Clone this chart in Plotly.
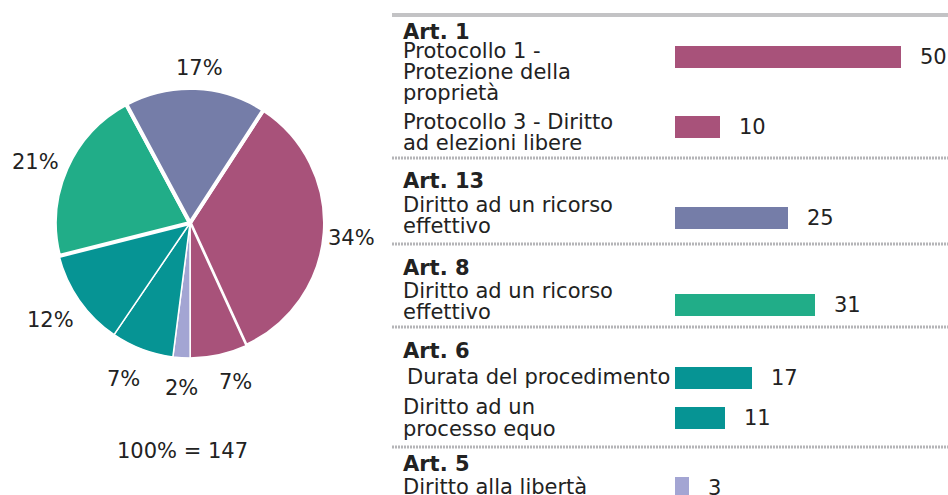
import math
import plotly.graph_objects as go

# ---------------- data ----------------
articles = ["Art. 1", "Art. 1", "Art. 13", "Art. 8", "Art. 6", "Art. 6", "Art. 5"]
rights = [
    ["Protocollo 1 -", "Protezione della", "proprietà"],
    ["Protocollo 3 - Diritto", "ad elezioni libere"],
    ["Diritto ad un ricorso", "effettivo"],
    ["Diritto ad un ricorso", "effettivo"],
    ["Durata del procedimento"],
    ["Diritto ad un", "processo equo"],
    ["Diritto alla libertà"],
]
values = [50, 10, 25, 31, 17, 11, 3]
total_label = "100% = 147"

# ---------------- styles / layout ----------------
W, H = 948, 495
colors = ["#A8527A", "#A8527A", "#757DA8", "#21AD88", "#069494", "#069494", "#A3A5D3"]
slice_line_w = [4, 1.5, 4, 4, 1.5, 1.5, 1.5]
pie_order = [0, 1, 6, 5, 4, 3, 2]  # clockwise arrangement of the slices
PIE_ROT = 33
PIE_CX, PIE_CY, PIE_R = 190, 223, 135
# per-slice (data order) label placement: angular nudge (deg) and distance from centre (px)
lab_nudge = [0.2, -4, 1, -1.4, 1, 2.7, -0.6]
lab_dist = [162, 163, 158, 167, 168, 167, 162]
FONT = "DejaVu Sans"
TXT = "#222222"
FS = 21

# pixel layout of the right-hand table (rows / text lines)
bar_center_px = [56.5, 127, 218, 305, 378, 417.5, 488]
header_px = {"Art. 1": 32, "Art. 13": 181, "Art. 8": 268, "Art. 6": 351, "Art. 5": 464}
line_px = [[51, 72, 93], [122, 143], [205, 226], [291, 312], [377], [407, 429], [487]]
line_x_px = [401, 401, 401, 401, 405, 401, 401]
sep_px = [158, 244, 327, 447]
bar_x0_px = 675
px_per_unit = 4.52


def px(x):
    return x / W


def py(y):
    return 1 - y / H


fig = go.Figure()

# pie
fig.add_trace(go.Pie(
    values=[values[i] for i in pie_order],
    labels=[f"{articles[i]} - {' '.join(rights[i])}" for i in pie_order],
    sort=False,
    direction="clockwise",
    rotation=PIE_ROT,
    marker=dict(colors=[colors[i] for i in pie_order],
                line=dict(color="white", width=[slice_line_w[i] for i in pie_order])),
    textinfo="none",
    domain=dict(x=[px(PIE_CX - PIE_R), px(PIE_CX + PIE_R)],
                y=[py(PIE_CY + PIE_R), py(PIE_CY - PIE_R)]),
    showlegend=False,
    hoverinfo="label+value+percent",
))

annotations = []

# pie percentage labels, placed from the slice mid-angles
total = sum(values)
angle = PIE_ROT
for i in pie_order:
    span = values[i] / total * 360
    mid = angle + span / 2 + lab_nudge[i]
    angle += span
    a = math.radians(mid)
    lx = PIE_CX + lab_dist[i] * math.sin(a)
    ly = PIE_CY - lab_dist[i] * math.cos(a)
    annotations.append(dict(
        x=px(lx), y=py(ly), xref="paper", yref="paper",
        text=f"{round(values[i] / total * 100)}%", showarrow=False,
        xanchor="center", yanchor="middle", yshift=-3,
        font=dict(family=FONT, size=FS, color=TXT),
    ))

# bars
fig.add_trace(go.Bar(
    x=values,
    y=bar_center_px,
    orientation="h",
    width=22,
    marker=dict(color=colors, line=dict(width=0)),
    xaxis="x", yaxis="y",
    showlegend=False,
))

for v, yc in zip(values, bar_center_px):
    annotations.append(dict(
        x=v, y=yc, xref="x", yref="y", text=str(v), showarrow=False,
        xanchor="left", yanchor="middle", xshift=17,
        font=dict(family=FONT, size=FS, color=TXT),
    ))
for art, ypx in header_px.items():
    annotations.append(dict(
        x=px(401), y=py(ypx), xref="paper", yref="paper", text=f"<b>{art}</b>",
        showarrow=False, xanchor="left", yanchor="middle",
        font=dict(family=FONT, size=FS, color=TXT),
    ))
for lines, ys, xl in zip(rights, line_px, line_x_px):
    for t, ypx in zip(lines, ys):
        annotations.append(dict(
            x=px(xl), y=py(ypx), xref="paper", yref="paper", text=t,
            showarrow=False, xanchor="left", yanchor="middle",
            font=dict(family=FONT, size=FS, color=TXT),
        ))
annotations.append(dict(
    x=px(182), y=py(451), xref="paper", yref="paper", text=total_label,
    showarrow=False, xanchor="center", yanchor="middle",
    font=dict(family=FONT, size=FS, color=TXT),
))

shapes = [dict(type="line", xref="paper", yref="paper", x0=px(392), x1=1,
               y0=py(15), y1=py(15), line=dict(color="#C3C3C5", width=4))]
for s in sep_px:
    shapes.append(dict(type="line", xref="paper", yref="paper", x0=px(392), x1=1,
                       y0=py(s), y1=py(s),
                       line=dict(color="#B5B5B8", width=3, dash="2px,1px")))

fig.update_layout(
    width=W, height=H,
    margin=dict(l=0, r=0, t=0, b=0),
    paper_bgcolor="white", plot_bgcolor="white",
    xaxis=dict(domain=[px(bar_x0_px), 1], range=[0, (W - bar_x0_px) / px_per_unit],
               visible=False, fixedrange=True),
    yaxis=dict(domain=[0, 1], range=[H, 0], visible=False, fixedrange=True),
    annotations=annotations,
    shapes=shapes,
    font=dict(family=FONT, color=TXT),
    bargap=0,
)

fig.write_html("out.html", config={"displayModeBar": False},
               post_script="document.body.style.margin='0';")
